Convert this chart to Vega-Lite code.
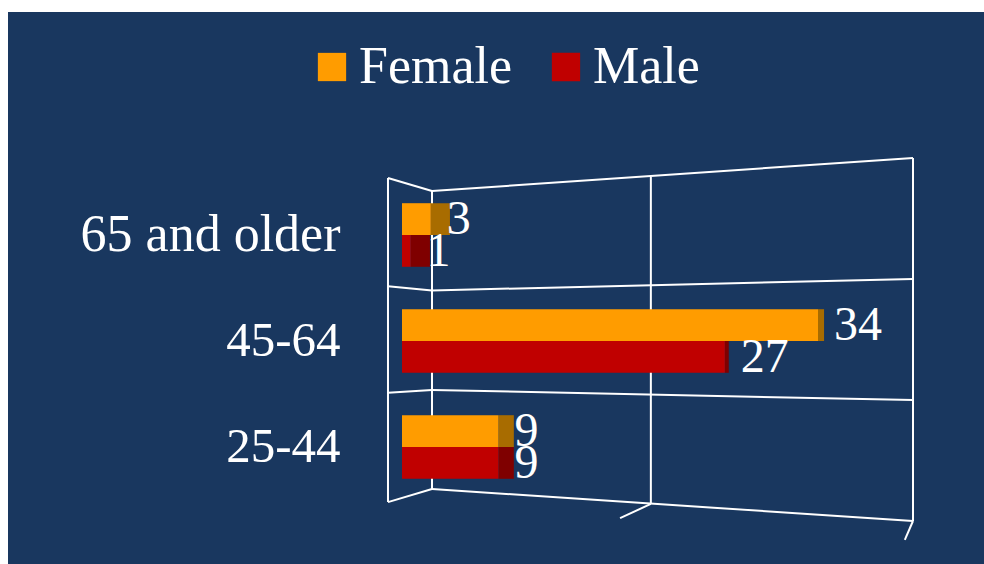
{
"$schema":"https://vega.github.io/schema/vega-lite/v6.json",
"width":976,"height":552,
"padding":{"left":8,"top":12,"right":0,"bottom":0},
"autosize":{"type":"none"},
"background":"#ffffff",
"view":{"fill":"#19375f","stroke":null},
"datasets":{
"bars":[
{"age":"65 and older","sex":"Female","value":3,"back":4.77},
{"age":"65 and older","sex":"Male","value":1,"back":2.92},
{"age":"45-64","sex":"Female","value":34,"back":34.45},
{"age":"45-64","sex":"Male","value":27,"back":27.3},
{"age":"25-44","sex":"Female","value":9,"back":10.3},
{"age":"25-44","sex":"Male","value":9,"back":10.3}
],
"frame":[
{"x":-9.15,"y":94.5,"x2":0,"y2":90.9},
{"x":0,"y":90.9,"x2":100,"y2":100},
{"x":-9.15,"y":94.5,"x2":-9.15,"y2":5.2},
{"x":0,"y":90.9,"x2":0,"y2":8.8},
{"x":45.5,"y":94.8,"x2":45.5,"y2":4.7},
{"x":100,"y":100,"x2":100,"y2":0},
{"x":-9.15,"y":5.2,"x2":0,"y2":8.8},
{"x":0,"y":8.8,"x2":100,"y2":0},
{"x":45.5,"y":4.7,"x2":39.1,"y2":0.8},
{"x":100,"y":0,"x2":98.3,"y2":-5.2},
{"x":-9.15,"y":64.7,"x2":0,"y2":63.5},
{"x":0,"y":63.5,"x2":100,"y2":66.7},
{"x":-9.15,"y":35.3,"x2":0,"y2":36.1},
{"x":0,"y":36.1,"x2":100,"y2":33.3}
]},
"layer":[
{"data":{"name":"frame"},
"mark":{"type":"rule","color":"#ffffff","strokeWidth":2},
"encoding":{
"x":{"field":"x","type":"quantitative","scale":{"domain":[0,100],"range":[424,905],"nice":false,"zero":false},"axis":null},
"y":{"field":"y","type":"quantitative","scale":{"domain":[0,100],"range":[509,146],"nice":false,"zero":false},"axis":null},
"x2":{"field":"x2"},"y2":{"field":"y2"}}},
{"data":{"name":"bars"},
"encoding":{
"y":{"field":"age","type":"nominal","sort":["65 and older","45-64","25-44"],
"scale":{"domain":["65 and older","45-64","25-44"],"range":[170,488],"paddingInner":0.4,"paddingOuter":0.2},
"axis":{"title":null,"domain":false,"ticks":false,"grid":false,"offset":-332,"labelPadding":0,"labelColor":"#ffffff","labelFont":"Liberation Serif","labelFontSize":{"expr":"datum.label=='65 and older'?52:49"},"labelLimit":400}},
"yOffset":{"field":"sex","type":"nominal","sort":["Female","Male"],"scale":{"domain":["Female","Male"],"paddingInner":0,"paddingOuter":0}},
"x":{"type":"quantitative","scale":{"type":"pow","exponent":1.1,"domain":[0,34],"range":[394,810],"nice":false,"zero":false,"clamp":false},"axis":null}
},
"layer":[
{"mark":{"type":"bar"},
"encoding":{
"x":{"field":"value","type":"quantitative"},
"x2":{"field":"back"},
"fill":{"condition":{"test":"datum.sex=='Female'","value":"#a86c00"},"value":"#7f0000"}}},
{"mark":{"type":"bar"},
"encoding":{
"x":{"field":"value","type":"quantitative"},
"x2":{"datum":0},
"color":{"field":"sex","type":"nominal","scale":{"domain":["Female","Male"],"range":["#ff9c00","#c00000"]},
"legend":{"title":null,"orient":"none","legendX":298,"legendY":25,"direction":"horizontal","symbolType":"square","symbolSize":800,"symbolStrokeWidth":0,"symbolOpacity":1,"labelColor":"#ffffff","labelFont":"Liberation Serif","labelFontSize":52,"labelOffset":1,"columnPadding":27,"clipHeight":60}}}},
{"mark":{"type":"text","align":"left","baseline":"middle","dx":16,"dy":1,"color":"#ffffff","font":"Liberation Serif","fontSize":48},
"encoding":{
"x":{"field":"value","type":"quantitative"},
"text":{"field":"value","type":"quantitative"}}}
]}
],
"resolve":{"scale":{"x":"independent","y":"independent"}}
}
